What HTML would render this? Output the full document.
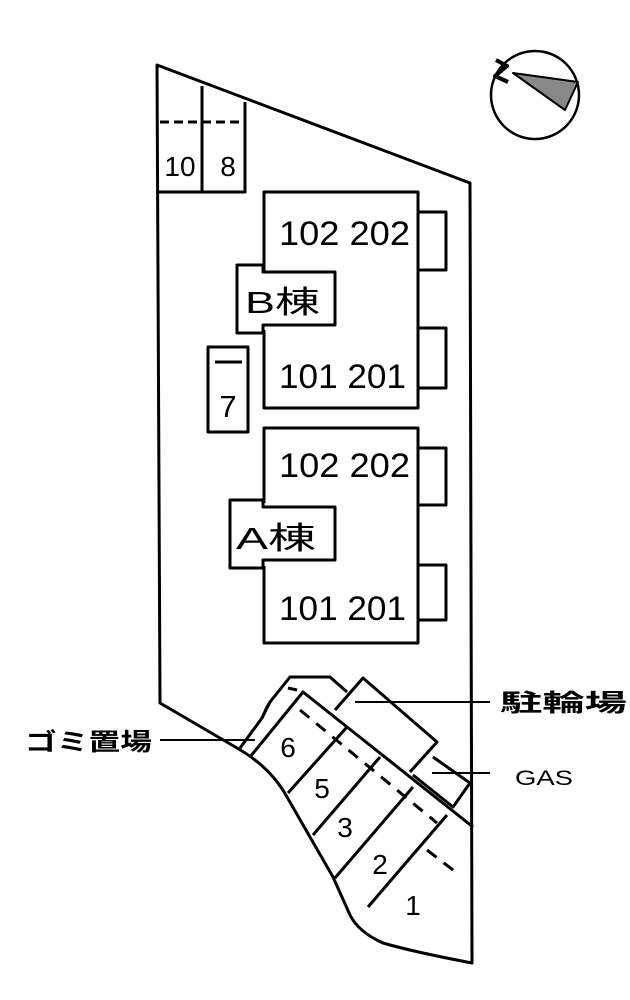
<!DOCTYPE html>
<html><head><meta charset="utf-8"><style>
html,body{margin:0;padding:0;background:#fff;}
svg{display:block}
text{font-family:"Liberation Sans","Noto Sans CJK JP",sans-serif;fill:#000}
</style></head><body>
<svg width="630" height="1000" viewBox="0 0 630 1000" xmlns="http://www.w3.org/2000/svg">
<g fill="none" stroke="#000" stroke-width="3" stroke-linejoin="round">
<path d="M157,65 L470,183 L472,963 C430,955 400,948 383,943 C365,935 355,925 350,915 L333,877 L287,797 C275,775 258,760 237,748 L160,703 Z" fill="#fff"/>
<path d="M157,192 L245,192 L245,102 M202,192 L202,86"/>
<path d="M160,122 L245,122" stroke-dasharray="9,5"/>
<path d="M264,272 L264,192 L418,192 L418,408 L264,408 L264,330"/>
<path d="M418,212 L446,212 L446,270 L418,270 M418,328 L446,328 L446,388 L418,388"/>
<path d="M237,265 L263,265 L263,272 L335,272 L335,325 L263,325 L263,333 L237,333 Z"/>
<rect x="208" y="347" width="40" height="85"/>
<path d="M215,362 L242,362"/>
<path d="M264,503 L264,428 L418,428 L418,643 L264,643 L264,566"/>
<path d="M418,448 L446,448 L446,505 L418,505 M418,565 L446,565 L446,620 L418,620"/>
<path d="M230,500 L263,500 L263,507 L335,507 L335,560 L263,560 L263,568 L230,568 Z"/>
<path d="M240,748 L262,718 L267,707 L270,702 L290,677 L330,677 L347,692"/>
<path d="M262,718 L270,702 M250,757 L303,692 L473,827 M288,688 L297,690"/>
<path d="M335,710 L363,678 L437,742 L410,772"/>
<path d="M433,757 L470,783 L453,807 L413,775"/>
<path d="M300,710 L437,823" stroke-dasharray="12,9"/>
<path d="M427,850 L457,873" stroke-dasharray="12,9"/>
<path d="M347,727 L288,793 M380,757 L313,835 M413,787 L335,878 M447,815 L368,907"/>
<path d="M355,702 L490,702 M160,740 L255,740 M432,773 L490,773" stroke-width="2"/>
<circle cx="535" cy="95" r="44" stroke-width="2.5"/>
<path d="M513,73 L578,82 L565,110 Z" fill="#888" stroke-width="2"/>
<path d="M496,60 L507,66 L495,76 L508,82" stroke-width="4"/>
</g>
<g font-size="34">
<text x="279" y="245" textLength="131" lengthAdjust="spacingAndGlyphs">102 202</text>
<text x="279" y="388" textLength="127" lengthAdjust="spacingAndGlyphs">101 201</text>
<text x="279" y="477" textLength="131" lengthAdjust="spacingAndGlyphs">102 202</text>
<text x="279" y="620" textLength="127" lengthAdjust="spacingAndGlyphs">101 201</text>
</g>
<text x="245" y="313" font-size="31" textLength="75" lengthAdjust="spacingAndGlyphs">B棟</text>
<text x="236" y="549" font-size="31" textLength="80" lengthAdjust="spacingAndGlyphs">A棟</text>
<text x="180" y="176" font-size="28" text-anchor="middle">10</text>
<text x="228" y="176" font-size="28" text-anchor="middle">8</text>
<text x="228" y="417" font-size="31" text-anchor="middle">7</text>
<g font-size="28" text-anchor="middle">
<text x="288" y="757">6</text>
<text x="322" y="798">5</text>
<text x="345" y="837">3</text>
<text x="380" y="874">2</text>
<text x="413" y="915">1</text>
</g>
<text x="500" y="711" font-size="24" font-weight="bold" textLength="127" lengthAdjust="spacingAndGlyphs">駐輪場</text>
<text x="25" y="750" font-size="24" font-weight="bold" textLength="127" lengthAdjust="spacingAndGlyphs">ゴミ置場</text>
<text x="515" y="785" font-size="21" textLength="58" lengthAdjust="spacingAndGlyphs">GAS</text>
</svg>
</body></html>
